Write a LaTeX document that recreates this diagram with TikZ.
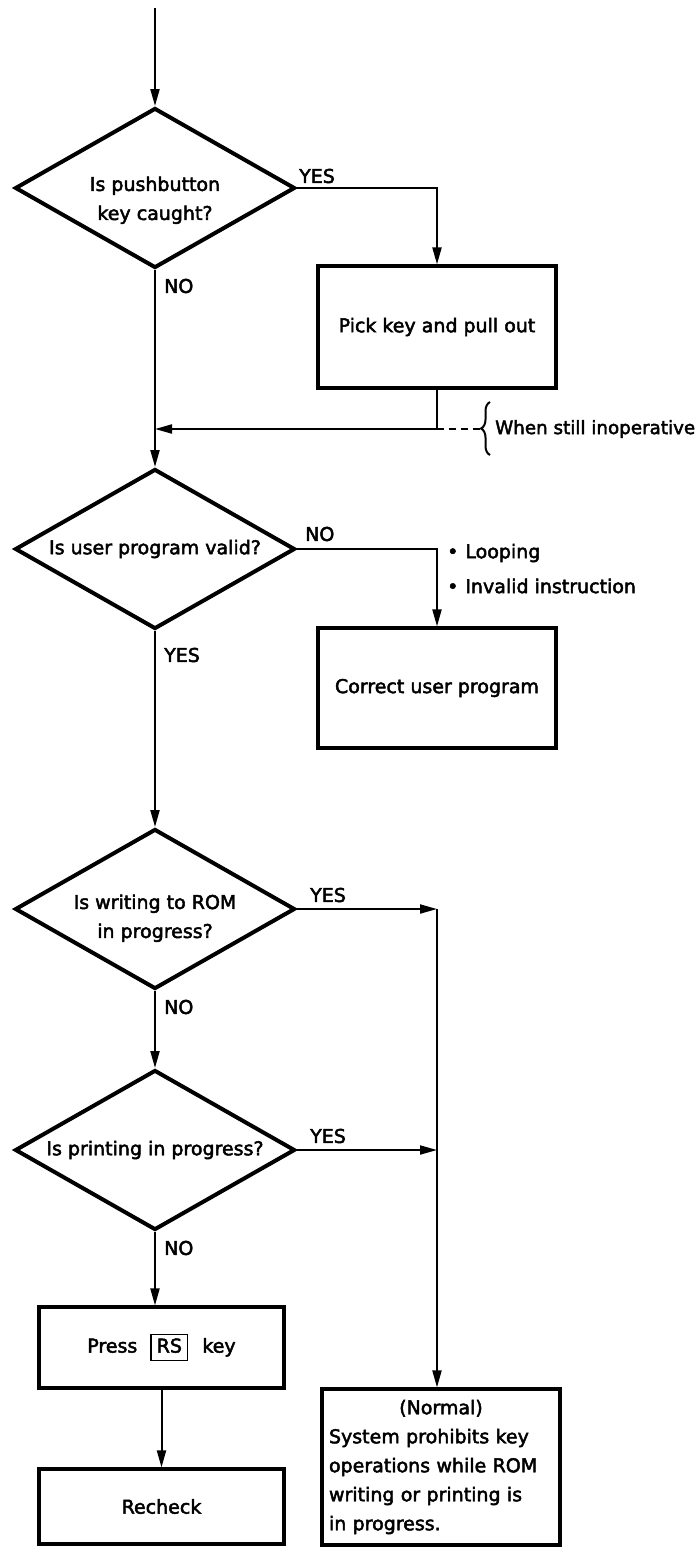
\documentclass[tikz,border=0pt]{standalone}
\usepackage{fontspec}
\setmainfont{DejaVu Sans}[FakeBold=2.5]
\usetikzlibrary{shapes.geometric,arrows.meta,decorations.pathreplacing}
\newcommand{\keycap}[1]{{\setlength{\fboxsep}{3pt}\setlength{\fboxrule}{1.4pt}\fbox{\rule[-4pt]{0pt}{17pt}\hspace{2pt}#1\hspace{2pt}}}}
\newcommand{\dtext}[2]{\raisebox{#1}[0pt][0pt]{\begin{tabular}{@{}c@{}}#2\end{tabular}}}
\tikzset{
  decision/.style={diamond, draw, line width=4pt, minimum width=280pt, minimum height=160pt,
    inner sep=0pt, aspect=1.75, align=center},
  procbox/.style={rectangle, draw, line width=3.2pt, align=center, inner sep=0pt},
  conn/.style={line width=2pt},
  arr/.style={conn, -{Triangle[length=17pt,width=9pt]}},
  lbl/.style={inner sep=0pt}
}
\begin{document}
\begin{tikzpicture}[x=1pt,y=-1pt,font=\fontsize{19}{29}\selectfont]
\useasboundingbox (0,0) rectangle (700,1547);

% decisions
\node[decision] (d1) at (155,188) {\dtext{-16pt}{Is pushbutton\\key caught?}};
\node[decision] (d2) at (155,549) {Is user program valid?};
\node[decision] (d3) at (155,909) {\dtext{-13pt}{Is writing to ROM\\in progress?}};
\node[decision] (d4) at (155,1150) {Is printing in progress?};

% process boxes
\node[procbox, minimum width=238pt, minimum height=122pt] (pick) at (437,327) {Pick key and pull out};
\node[procbox, minimum width=238pt, minimum height=120pt] (fix) at (437,688) {Correct user program};
\node[procbox, minimum width=245pt, minimum height=81pt] (press) at (161.5,1347.5) {Press\hspace{13pt}\keycap{RS}\hspace{14pt}key};
\node[procbox, minimum width=245pt, minimum height=75pt] (rechk) at (161.5,1506.5) {Recheck};
\node[procbox, minimum width=238pt, minimum height=156pt, text width=224pt, align=left] (norm) at (441,1467)
  {\makebox[224pt][c]{(Normal)}\\System prohibits key\\operations while ROM\\writing or printing is\\in progress.};

% connectors
\coordinate (top) at (155,8);
\draw[arr] (top) -- (d1.north);
\draw[arr] (d1.east) -| (pick.north);
\draw[arr] (d1.south) -- (d2.north);
\coordinate (j1) at (155,429);
\draw[arr] (pick.south) |- (j1);
\coordinate (b1) at (437,429);
\coordinate (bt) at (481,429);
\draw[conn, dash pattern=on 7pt off 5pt] (b1) -- (bt);
\coordinate (brlo) at (490,455);
\coordinate (brhi) at (490,402);
\draw[conn, decorate, decoration={brace, amplitude=9pt}] (brlo) -- (brhi);
\node[lbl, anchor=west, font=\fontsize{18.3}{29}\selectfont] (inop) at (495,429) {When still inoperative};

\draw[arr] (d2.east) -| (fix.north);
\node[lbl, anchor=west] (why1) at (447,553) {\textbullet\hspace{7pt}Looping};
\node[lbl, anchor=west] (why2) at (447,586) {\textbullet\hspace{7pt}Invalid instruction};

\draw[arr] (d2.south) -- (d3.north);
\draw[arr] (d3.south) -- (d4.north);
\draw[arr] (d4.south) -- (d4.south |- press.north);
\draw[arr] (press.south) -- (rechk.north);

\coordinate (c3) at (437,909);
\coordinate (c4) at (437,1150);
\draw[arr] (d3.east) -- (c3);
\draw[arr] (d4.east) -- (c4);
\draw[arr] (c3) -- (c3 |- norm.north);

% branch labels
\node[lbl, anchor=west] (y1) at (299,176) {YES};
\node[lbl, anchor=west] (n1) at (164,286) {NO};
\node[lbl, anchor=west] (n2) at (305,534) {NO};
\node[lbl, anchor=west] (y2) at (164,655) {YES};
\node[lbl, anchor=west] (y3) at (310,895) {YES};
\node[lbl, anchor=west] (n3) at (164,1007) {NO};
\node[lbl, anchor=west] (y4) at (310,1136) {YES};
\node[lbl, anchor=west] (n4) at (164,1248) {NO};
\end{tikzpicture}
\end{document}
